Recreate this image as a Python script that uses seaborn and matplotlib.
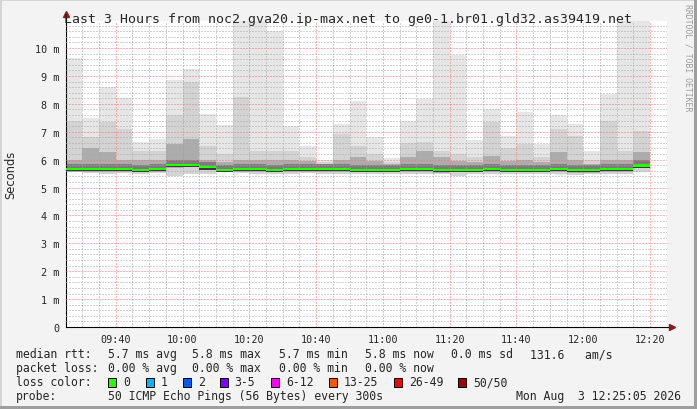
import pandas as pd
import matplotlib
matplotlib.use("Agg")
import matplotlib.pyplot as plt
import seaborn as sns
from matplotlib.patches import Rectangle
from matplotlib.ticker import MultipleLocator

# --- data: one smokeping step every 5 minutes (start time of each step) ---
bar_times = pd.date_range("2026-08-03 09:25", periods=35, freq="5min")

# highest ping of the step (ms) - values above ~10.97 are cut by the graph
top_ms = [9.65, 7.5, 8.6, 8.2, 6.65, 6.75, 8.85, 9.25, 7.65, 7.25, 11.5, 11.5,
          10.6, 7.2, 6.5, 6.0, 7.28, 8.1, 6.8, 6.05, 7.37, 8.17, 11.5, 9.75,
          6.7, 7.8, 6.86, 7.7, 6.56, 7.6, 7.28, 6.32, 8.34, 11.5, 11.5]
# upper edge of the medium grey smoke
mid_ms = [7.4, 6.8, 7.35, 7.1, 6.3, 6.3, 7.6, 8.8, 6.5, 6.2, 8.25, 6.3,
          6.3, 6.3, 6.1, 5.9, 6.92, 6.5, 6.2, 5.9, 6.6, 6.63, 6.3, 6.2,
          6.1, 7.35, 6.4, 6.56, 6.1, 7.1, 6.86, 6.0, 7.4, 6.3, 7.04]
# upper edge of the dark grey smoke
dense_ms = [6.0, 6.4, 6.26, 6.0, 6.0, 6.0, 6.55, 6.75, 6.0, 5.9, 6.0, 6.0,
            6.0, 6.0, 5.95, 5.85, 6.0, 6.1, 5.95, 5.85, 6.1, 6.32, 6.1, 5.95,
            5.9, 6.14, 5.95, 6.0, 5.9, 6.26, 6.0, 5.85, 6.0, 6.0, 6.26]
# median rtt (ms)
median_ms = [5.65, 5.67, 5.67, 5.67, 5.64, 5.66, 5.81, 5.82, 5.72, 5.64, 5.67, 5.67,
             5.64, 5.66, 5.66, 5.66, 5.66, 5.64, 5.64, 5.64, 5.66, 5.67, 5.63, 5.64,
             5.64, 5.66, 5.64, 5.64, 5.64, 5.67, 5.63, 5.63, 5.66, 5.66, 5.79]
# lowest ping of the step (ms)
min_ms = [5.54, 5.52, 5.5, 5.52, 5.5, 5.52, 5.42, 5.5, 5.5, 5.56, 5.52, 5.5,
          5.48, 5.5, 5.52, 5.5, 5.5, 5.48, 5.5, 5.5, 5.48, 5.5, 5.5, 5.4,
          5.5, 5.5, 5.48, 5.5, 5.5, 5.5, 5.46, 5.48, 5.5, 5.5, 5.55]

tick_times = ["09:40", "10:00", "10:20", "10:40", "11:00", "11:20", "11:40", "12:00", "12:20"]
y_ticks = [0, 1, 2, 3, 4, 5, 6, 7, 8, 9, 10]
y_tick_labels = ["0", "1 m", "2 m", "3 m", "4 m", "5 m", "6 m", "7 m", "8 m", "9 m", "10 m"]

loss_labels = ["0", "1", "2", "3-5", "6-12", "13-25", "26-49", "50/50"]
loss_colors = ["#26ff00", "#00b8ff", "#0059ff", "#7e00ff", "#ff00ff", "#ff5500", "#ff0000", "#a10000"]

title = "Last 3 Hours from noc2.gva20.ip-max.net to ge0-1.br01.gld32.as39419.net"
rtt_stats = ["5.7 ms avg", "5.8 ms max", "5.7 ms min", "5.8 ms now", "0.0 ms sd", "131.6   am/s"]
loss_stats = ["0.00 % avg", "0.00 % max", "0.00 % min", "0.00 % now"]
probe_text = "50 ICMP Echo Pings (56 Bytes) every 300s"
stamp_text = "Mon Aug  3 12:25:05 2026"

df = pd.DataFrame({"t": bar_times, "top": top_ms, "mid": mid_ms, "dense": dense_ms,
                   "median": median_ms, "low": min_ms})
midnight = pd.Timestamp("2026-08-03")
df["x"] = (df["t"] - midnight).dt.total_seconds() / 60
tick_pos = [(pd.Timestamp("2026-08-03 " + s) - midnight).total_seconds() / 60 for s in tick_times]

# --- style ---
sns.set_style("white")
mono = "DejaVu Sans Mono"
plt.rcParams["font.family"] = ["DejaVu Sans"]
BG = "#f3f3f3"

W, H = 697, 410
fig = plt.figure(figsize=(W / 100, H / 100), dpi=100, facecolor=BG)
ax = fig.add_axes([66 / W, (H - 328) / H, (667 - 66) / W, (328 - 22) / H])
ax.set_facecolor("white")

# smoke layers
ax.bar(df["x"], df["top"] - df["low"], bottom=df["low"], width=5, align="edge", color="#e6e6e6", lw=0)
ax.bar(df["x"], df["mid"] - df["low"], bottom=df["low"], width=5, align="edge", color="#d3d3d3", lw=0)
ax.bar(df["x"], df["dense"] - df["median"] + 0.1, bottom=df["median"] - 0.1, width=5,
       align="edge", color="#acacac", lw=0)
ax.bar(df["x"], 0.24, bottom=df["median"] - 0.06, width=5, align="edge", color="#7c7c7c", lw=0)
ax.bar(df["x"], 0.04, bottom=df["median"] - 0.075, width=5, align="edge", color="#3a3a3a", lw=0, zorder=3)
# median line, coloured by loss (0 % -> green)
ax.bar(df["x"], 0.075, bottom=df["median"] - 0.037, width=5, align="edge",
       color=loss_colors[0], lw=0, zorder=3)

start = (pd.Timestamp("2026-08-03 09:25:05") - midnight).total_seconds() / 60
ax.set_xlim(start, start + 180)
ax.set_ylim(0, 10.97)

ax.set_axisbelow(False)
ax.xaxis.set_minor_locator(MultipleLocator(5))
ax.yaxis.set_minor_locator(MultipleLocator(0.2))
ax.grid(which="major", color="#ff7070", ls=(0, (1, 2)), lw=0.72)
ax.grid(which="minor", color="#a8a8a8", ls=(0, (1, 2)), lw=0.72)

ax.set_xticks(tick_pos, tick_times)
ax.set_yticks(y_ticks, y_tick_labels)
ax.tick_params(which="major", direction="inout", length=4, width=0.7, color="#444444",
               labelsize=7.3, pad=3)
ax.tick_params(which="minor", direction="inout", length=3, width=0.7, color="#bbbbbb")
for lab in ax.get_xticklabels() + ax.get_yticklabels():
    lab.set_family(mono)

for s in ["top", "right"]:
    ax.spines[s].set_visible(False)
ax.spines["left"].set_linewidth(0.8)
ax.spines["bottom"].set_linewidth(0.8)
ax.spines["left"].set_color("black")
ax.spines["bottom"].set_color("black")

# axis extensions with arrows
ax.plot([0, 0], [1, 1.02], transform=ax.transAxes, color="black", lw=0.8, clip_on=False)
ax.plot([1, 1.007], [0, 0], transform=ax.transAxes, color="black", lw=0.8, clip_on=False)
ax.plot([0], [1.022], transform=ax.transAxes, marker="^", ms=5, color="#8b1a1a", clip_on=False)
ax.plot([1.009], [0], transform=ax.transAxes, marker=">", ms=5, color="#8b1a1a", clip_on=False)

ax.set_ylabel("Seconds", fontsize=8.3)
ax.yaxis.set_label_coords(-0.081, 0.5)

def fx(px):
    return px / W

def fy(py):
    return 1 - py / H

fig.text(fx(64), fy(19), title, family=mono, fontsize=9.5, va="center", ha="left")
fig.text(fx(688), fy(4), "RRDTOOL / TOBI OETIKER", family=mono, fontsize=5.9,
         color="#9a9a9a", rotation=270, va="top", ha="center")

# legend block
lfs = 8.3
fig.text(fx(16), fy(355), "median rtt:", family=mono, fontsize=lfs, va="center")
for xp, s in zip([107.6, 192, 279, 365, 451, 530], rtt_stats):
    fig.text(fx(xp), fy(355), s, family=mono, fontsize=lfs, va="center")
fig.text(fx(16), fy(369), "packet loss:", family=mono, fontsize=lfs, va="center")
for xp, s in zip([107.6, 192, 279, 365], loss_stats):
    fig.text(fx(xp), fy(369), s, family=mono, fontsize=lfs, va="center")
fig.text(fx(16), fy(383), "loss color:", family=mono, fontsize=lfs, va="center")
box_x = [108.4, 145.8, 182.7, 219.6, 271, 328.9, 393.8, 457.8]
for xp, lab, col in zip(box_x, loss_labels, loss_colors):
    fig.patches.append(Rectangle((fx(xp), fy(387.5)), 8 / W, 9 / H, transform=fig.transFigure,
                                 facecolor=col, edgecolor="black", lw=0.7))
    fig.text(fx(xp + 15), fy(383), lab, family=mono, fontsize=lfs, va="center")
fig.text(fx(16), fy(397), "probe:", family=mono, fontsize=lfs, va="center")
fig.text(fx(107.6), fy(397), probe_text, family=mono, fontsize=lfs, va="center")
fig.text(fx(681), fy(397), stamp_text, family=mono, fontsize=lfs, va="center", ha="right")

# image frame
fig.patches.append(Rectangle((0, 0), 2 / W, 1, transform=fig.transFigure, color="#d4d4d4", lw=0))
fig.patches.append(Rectangle((0, 1 - 2 / H), 1, 2 / H, transform=fig.transFigure, color="#d4d4d4", lw=0))
fig.patches.append(Rectangle((1 - 3 / W, 0), 3 / W, 1, transform=fig.transFigure, color="#9e9e9e", lw=0))
fig.patches.append(Rectangle((0, 0), 1, 3 / H, transform=fig.transFigure, color="#9e9e9e", lw=0))

fig.savefig("out.png", dpi=100, facecolor=BG)
